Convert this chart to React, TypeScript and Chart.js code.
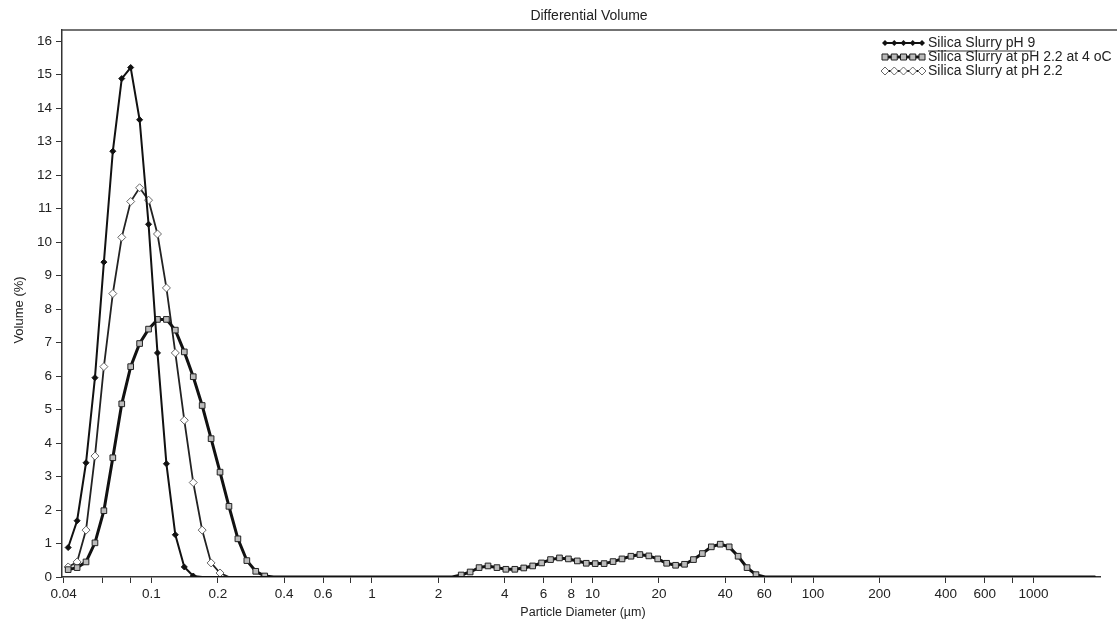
import React, { useEffect, useRef } from "react";
import { Chart, registerables } from "chart.js";

Chart.register(...registerables);

// Channel centre diameters (µm)
const diameters = [
  0.04191, 0.04601, 0.0505, 0.05544, 0.06086, 0.06681, 0.07334, 0.08051, 0.08838, 0.09702,
  0.1065, 0.1169, 0.1283, 0.1409, 0.1547, 0.1698, 0.1864, 0.2046, 0.2246, 0.2466,
  0.2707, 0.2971, 0.3262, 0.3581, 0.3931, 0.4315, 0.4737, 0.52, 0.5708, 0.6266,
  0.6879, 0.7551, 0.8289, 0.91, 0.9989, 1.0966, 1.2038, 1.3214, 1.4506, 1.5924,
  1.748, 1.9189, 2.1065, 2.3124, 2.5384, 2.7865, 3.0589, 3.3579, 3.6861, 4.0464,
  4.4419, 4.8761, 5.3527, 5.8759, 6.4502, 7.0807, 7.7728, 8.5326, 9.3666, 10.282,
  11.287, 12.39, 13.602, 14.931, 16.391, 17.993, 19.752, 21.683, 23.802, 26.129,
  28.683, 31.487, 34.564, 37.943, 41.652, 45.723, 50.192, 55.098, 60.484, 66.396,
  72.886, 80.01, 87.831, 96.416, 105.84, 116.19, 127.54, 140.01, 153.7, 168.72,
  185.21, 203.31, 223.19, 245.0, 268.95, 295.24, 324.1, 355.78, 390.56, 428.73,
  470.64, 516.64, 567.14, 622.58, 683.43, 750.23, 823.56, 904.06, 992.43, 1089.4,
  1195.9, 1312.8, 1441.1, 1582.0, 1736.6, 1906.4,
];

const slurryPH9 = [
  0.88, 1.68, 3.41, 5.95, 9.4, 12.71, 14.88, 15.21, 13.65, 10.53,
  6.69, 3.38, 1.26, 0.3, 0.03, 0, 0, 0, 0, 0,
  0, 0, 0, 0, 0, 0, 0, 0, 0, 0,
  0, 0, 0, 0, 0, 0, 0, 0, 0, 0,
  0, 0, 0, 0, 0, 0, 0, 0, 0, 0,
  0, 0, 0, 0, 0, 0, 0, 0, 0, 0,
  0, 0, 0, 0, 0, 0, 0, 0, 0, 0,
  0, 0, 0, 0, 0, 0, 0, 0, 0, 0,
  0, 0, 0, 0, 0, 0, 0, 0, 0, 0,
  0, 0, 0, 0, 0, 0, 0, 0, 0, 0,
  0, 0, 0, 0, 0, 0, 0, 0, 0, 0,
  0, 0, 0, 0, 0, 0,
];

const slurryPH22at4C = [
  0.22, 0.28, 0.45, 1.02, 1.98, 3.56, 5.17, 6.28, 6.97, 7.4,
  7.69, 7.69, 7.37, 6.72, 5.98, 5.12, 4.13, 3.13, 2.11, 1.14,
  0.49, 0.17, 0.03, 0, 0, 0, 0, 0, 0, 0,
  0, 0, 0, 0, 0, 0, 0, 0, 0, 0,
  0, 0, 0, 0, 0.06, 0.15, 0.28, 0.33, 0.28, 0.23,
  0.23, 0.27, 0.33, 0.42, 0.52, 0.57, 0.54, 0.48, 0.41, 0.4,
  0.4, 0.46, 0.54, 0.62, 0.67, 0.63, 0.54, 0.41, 0.35, 0.38,
  0.52, 0.7, 0.9, 0.98, 0.9, 0.62, 0.28, 0.07, 0, 0,
  0, 0, 0, 0, 0, 0, 0, 0, 0, 0,
  0, 0, 0, 0, 0, 0, 0, 0, 0, 0,
  0, 0, 0, 0, 0, 0, 0, 0, 0, 0,
  0, 0, 0, 0, 0, 0,
];

const slurryPH22 = [
  0.3, 0.45, 1.4, 3.61, 6.28, 8.46, 10.14, 11.21, 11.62, 11.25,
  10.24, 8.63, 6.69, 4.68, 2.82, 1.4, 0.42, 0.12, 0, 0,
  0, 0, 0, 0, 0, 0, 0, 0, 0, 0,
  0, 0, 0, 0, 0, 0, 0, 0, 0, 0,
  0, 0, 0, 0, 0, 0, 0, 0, 0, 0,
  0, 0, 0, 0, 0, 0, 0, 0, 0, 0,
  0, 0, 0, 0, 0, 0, 0, 0, 0, 0,
  0, 0, 0, 0, 0, 0, 0, 0, 0, 0,
  0, 0, 0, 0, 0, 0, 0, 0, 0, 0,
  0, 0, 0, 0, 0, 0, 0, 0, 0, 0,
  0, 0, 0, 0, 0, 0, 0, 0, 0, 0,
  0, 0, 0, 0, 0, 0,
];

const xTickValues = [0.04, 0.06, 0.08, 0.1, 0.2, 0.4, 0.6, 0.8, 1, 2, 4, 6, 8, 10, 20, 40, 60, 80, 100, 200, 400, 600, 800, 1000];
const xTickLabels = ["0.04", "", "", "0.1", "0.2", "0.4", "0.6", "", "1", "2", "4", "6", "8", "10", "20", "40", "60", "", "100", "200", "400", "600", "", "1000"];
const yTickValues = [0, 1, 2, 3, 4, 5, 6, 7, 8, 9, 10, 11, 12, 13, 14, 15, 16];

const seriesNames = ["Silica Slurry pH 9", "Silica Slurry at pH 2.2 at 4 oC", "Silica Slurry at pH 2.2"];
const chartTitle = "Differential Volume";
const xTitle = "Particle Diameter (µm)";
const yTitle = "Volume (%)";

const FONT = "'Liberation Sans', Arial, sans-serif";
const TEXT = "#222";

type MarkerStyle = "diamondFilled" | "square" | "diamondOpen";
const markerStyles: MarkerStyle[] = ["diamondFilled", "square", "diamondOpen"];

function drawMarker(ctx: CanvasRenderingContext2D, style: MarkerStyle, x: number, y: number) {
  ctx.beginPath();
  if (style === "square") {
    ctx.rect(x - 3, y - 3, 6, 6);
    ctx.fillStyle = "#bbb";
    ctx.fill();
    ctx.lineWidth = 1;
    ctx.strokeStyle = "#222";
    ctx.stroke();
  } else {
    const r = style === "diamondFilled" ? 3 : 4;
    ctx.moveTo(x, y - r);
    ctx.lineTo(x + r, y);
    ctx.lineTo(x, y + r);
    ctx.lineTo(x - r, y);
    ctx.closePath();
    if (style === "diamondFilled") {
      ctx.fillStyle = "#111";
      ctx.fill();
    } else {
      ctx.fillStyle = "#fff";
      ctx.fill();
      ctx.lineWidth = 1;
      ctx.strokeStyle = "#666";
      ctx.stroke();
    }
  }
}

const decorPlugin = {
  id: "decor",
  afterDraw(chart: any) {
    const { ctx, chartArea: a, width } = chart;
    ctx.save();
    // top frame line
    ctx.strokeStyle = "#444";
    ctx.lineWidth = 1.5;
    ctx.beginPath();
    ctx.moveTo(a.left, a.top);
    ctx.lineTo(width, a.top);
    ctx.stroke();

    ctx.fillStyle = TEXT;
    ctx.textAlign = "center";
    ctx.textBaseline = "middle";
    ctx.font = `14px ${FONT}`;
    ctx.fillText(chartTitle, 589, 16);
    ctx.font = `12.5px ${FONT}`;
    ctx.fillText(xTitle, 583, 613);
    ctx.font = `13px ${FONT}`;
    ctx.save();
    ctx.translate(19, 310);
    ctx.rotate(-Math.PI / 2);
    ctx.fillText(yTitle, 0, 0);
    ctx.restore();

    // legend
    const rows = [43, 57, 71];
    const lineW = [2, 3, 1.8];
    ctx.textAlign = "left";
    ctx.font = `14px ${FONT}`;
    seriesNames.forEach((name, i) => {
      const y = rows[i];
      ctx.strokeStyle = "#111";
      ctx.lineWidth = lineW[i];
      ctx.beginPath();
      ctx.moveTo(885, y);
      ctx.lineTo(922, y);
      ctx.stroke();
      for (let k = 0; k < 5; k++) drawMarker(ctx, markerStyles[i], 885 + k * 9.25, y);
      ctx.fillStyle = TEXT;
      ctx.fillText(name, 928, y + 0.5);
      if (i === 0) {
        const w = ctx.measureText(name).width;
        ctx.strokeStyle = "#333";
        ctx.lineWidth = 1;
        ctx.beginPath();
        ctx.moveTo(928, y + 8);
        ctx.lineTo(928 + w, y + 8);
        ctx.stroke();
      }
    });
    ctx.restore();
  },
};

function toPoints(values: number[]) {
  return diameters.map((d, i) => ({ x: d, y: values[i] }));
}

export default function App() {
  const ref = useRef<HTMLCanvasElement | null>(null);

  useEffect(() => {
    document.body.style.margin = "0";
    const canvas = ref.current;
    if (!canvas) return;
    const radiusIfPositive = (r: number) => (c: any) => (c.raw && c.raw.y > 0 ? r : 0);

    const chart = new Chart(canvas, {
      type: "line",
      data: {
        datasets: [
          {
            label: seriesNames[0],
            data: toPoints(slurryPH9),
            borderColor: "#111",
            borderWidth: 2,
            pointStyle: "rectRot",
            pointRadius: radiusIfPositive(3),
            pointBackgroundColor: "#111",
            pointBorderColor: "#111",
            pointBorderWidth: 1,
            tension: 0,
          },
          {
            label: seriesNames[1],
            data: toPoints(slurryPH22at4C),
            borderColor: "#111",
            borderWidth: 3,
            pointStyle: "rect",
            pointRadius: radiusIfPositive(4),
            pointBackgroundColor: "#bbb",
            pointBorderColor: "#222",
            pointBorderWidth: 1,
            tension: 0,
          },
          {
            label: seriesNames[2],
            data: toPoints(slurryPH22),
            borderColor: "#222",
            borderWidth: 1.8,
            pointStyle: "rectRot",
            pointRadius: radiusIfPositive(4),
            pointBackgroundColor: "#fff",
            pointBorderColor: "#666",
            pointBorderWidth: 1,
            tension: 0,
          },
        ],
      },
      options: {
        animation: false,
        responsive: false,
        devicePixelRatio: 1,
        layout: { padding: { top: 30, right: 17, left: 0, bottom: 0 } },
        plugins: {
          legend: { display: false },
          title: { display: false },
          tooltip: { enabled: false },
        },
        scales: {
          x: {
            type: "logarithmic",
            min: 0.0393,
            max: 2000,
            afterBuildTicks: (scale: any) => {
              scale.ticks = xTickValues.map((v) => ({ value: v }));
            },
            afterFit: (scale: any) => {
              scale.height = 45;
            },
            ticks: {
              autoSkip: false,
              maxRotation: 0,
              minRotation: 0,
              padding: 3,
              color: TEXT,
              font: { family: FONT, size: 13.5 },
              callback: (_v: any, index: number) => xTickLabels[index],
            },
            grid: { display: true, drawOnChartArea: false, drawTicks: true, tickLength: 6, color: "#333", lineWidth: 1 },
            border: { display: true, color: "#333", width: 1.5 },
          },
          y: {
            type: "linear",
            min: 0,
            max: 16.33,
            afterBuildTicks: (scale: any) => {
              scale.ticks = yTickValues.map((v) => ({ value: v }));
            },
            afterFit: (scale: any) => {
              scale.width = 62;
            },
            ticks: {
              padding: 4,
              color: TEXT,
              font: { family: FONT, size: 13.5 },
              callback: (v: any) => String(v),
            },
            grid: { display: true, drawOnChartArea: false, drawTicks: true, tickLength: 6, color: "#333", lineWidth: 1 },
            border: { display: true, color: "#333", width: 1.5 },
          },
        },
      },
      plugins: [decorPlugin],
    });
    return () => chart.destroy();
  }, []);

  return (
    <div style={{ position: "absolute", left: 0, top: 0, width: 1117, height: 622, background: "#fff" }}>
      <canvas ref={ref} width={1117} height={622} style={{ display: "block", width: 1117, height: 622 }} />
    </div>
  );
}
